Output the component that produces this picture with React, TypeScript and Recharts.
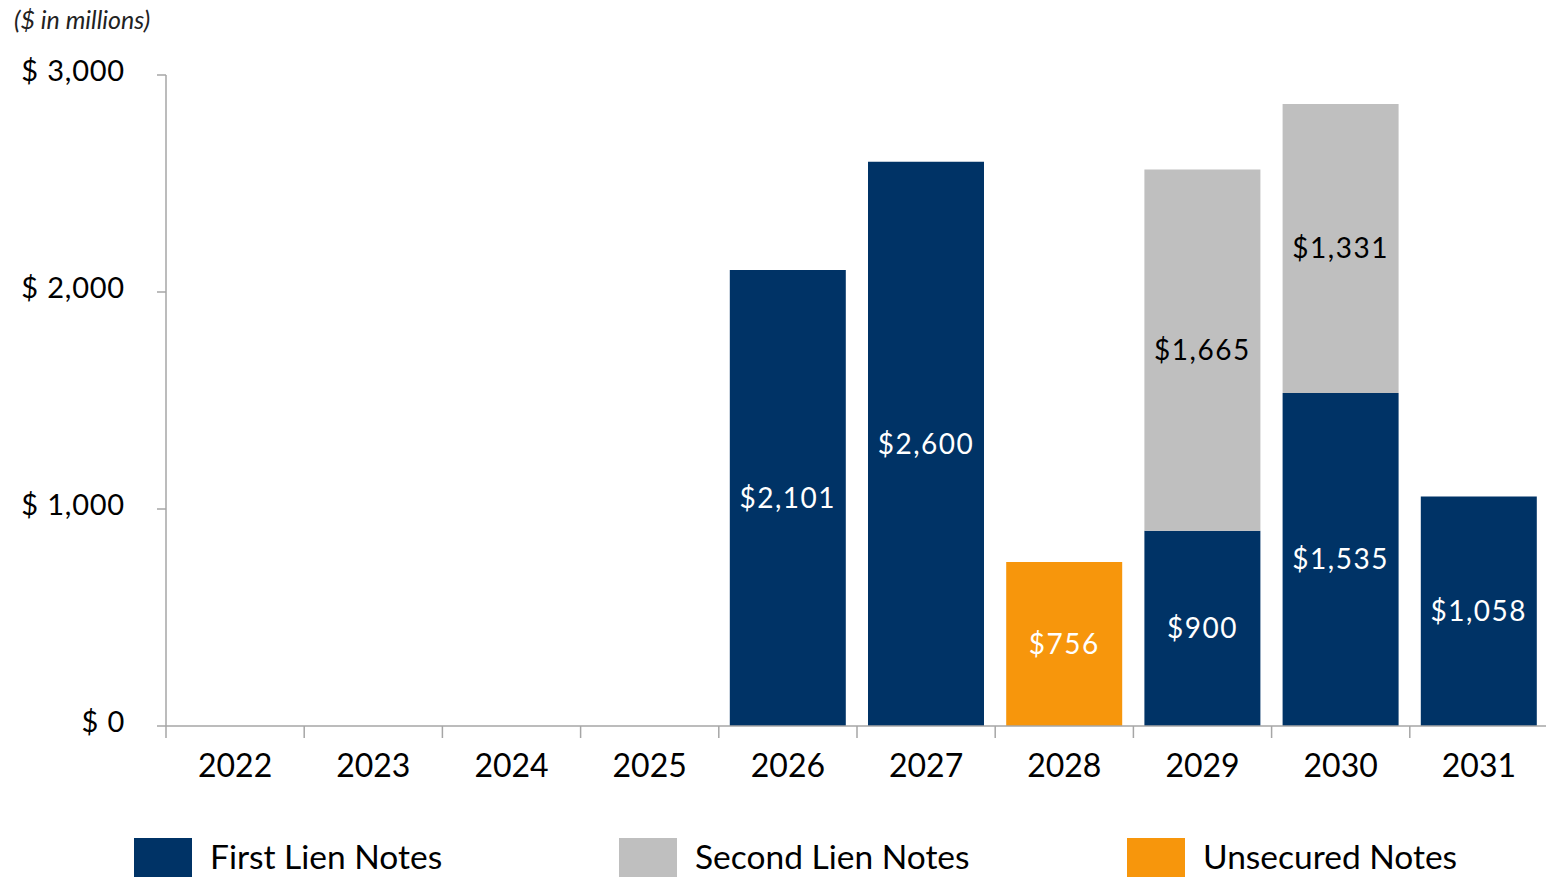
import React from 'react';
import { BarChart, Bar, XAxis, YAxis, LabelList } from 'recharts';

const categories = ['2022', '2023', '2024', '2025', '2026', '2027', '2028', '2029', '2030', '2031'];
const firstLien = [null, null, null, null, 2101, 2600, null, 900, 1535, 1058];
const secondLien = [null, null, null, null, null, null, null, 1665, 1331, null];
const unsecured = [null, null, null, null, null, null, 756, null, null, null];
const yTicks = [0, 1000, 2000, 3000];
const seriesNames = ['First Lien Notes', 'Second Lien Notes', 'Unsecured Notes'];
const seriesColors = ['#003366', '#BFBFBF', '#F7960C'];
const labelColors = ['#FFFFFF', '#000000', '#FFFFFF'];

const data = categories.map((c, i) => ({
  year: c,
  first: firstLien[i],
  second: secondLien[i],
  unsecured: unsecured[i],
}));

const FONT = 'Lato, "Open Sans", sans-serif';
const fmt = (v: any) => (v == null ? '' : `$${Number(v).toLocaleString('en-US')}`);

const XTick = (props: any) => {
  const { x, y, payload } = props;
  const band = 138.2;
  return (
    <g>
      <line x1={x - band / 2} x2={x - band / 2} y1={y} y2={y + 12} stroke="#A6A6A6" strokeWidth={1.5} />
      <text x={x} y={y + 51} textAnchor="middle" fontSize={32} fontFamily={FONT} fill="#000">
        {payload.value}
      </text>
    </g>
  );
};

const YTick = (props: any) => {
  const { x, y, payload } = props;
  return (
    <text x={x} y={y + 6} textAnchor="end" fontSize={29} fontFamily={FONT} fill="#000" letterSpacing={0.8}>
      {`$ ${Number(payload.value).toLocaleString('en-US')}`}
    </text>
  );
};

const keys = ['first', 'second', 'unsecured'];

export default function App() {
  return (
    <div style={{ position: 'absolute', left: 0, top: 0, width: 1546, height: 877, background: '#fff', overflow: 'hidden' }}>
      <div style={{ position: 'absolute', left: 14, top: 4, fontFamily: FONT, fontStyle: 'italic', fontSize: 25, color: '#222' }}>
        ($ in millions)
      </div>
      <BarChart width={1548} height={879} data={data} margin={{ top: 75, right: 0, bottom: 0, left: 0 }}>
        <YAxis
          width={166}
          domain={[0, 3000]}
          ticks={yTicks}
          interval={0}
          tick={<YTick />}
          tickSize={9}
          tickMargin={32}
          axisLine={{ stroke: '#A6A6A6', strokeWidth: 1.5 }}
          tickLine={{ stroke: '#A6A6A6', strokeWidth: 1.5 }}
        />
        <XAxis
          dataKey="year"
          height={153}
          interval={0}
          tick={<XTick />}
          tickSize={0}
          tickMargin={0}
          tickLine={false}
          axisLine={{ stroke: '#A6A6A6', strokeWidth: 1.5 }}
        />
        {keys.map((k, i) => (
          <Bar key={k} dataKey={k} stackId="a" fill={seriesColors[i]} barSize={116} isAnimationActive={false}>
            <LabelList
              dataKey={k}
              position="center"
              formatter={fmt}
              fill={labelColors[i]}
              fontSize={28}
              fontFamily={FONT}
              letterSpacing={1.5}
            />
          </Bar>
        ))}
      </BarChart>
      {seriesNames.map((n, i) => (
        <div
          key={n}
          style={{ position: 'absolute', left: [134, 619, 1127][i], top: 838, height: 40, display: 'flex', alignItems: 'center' }}
        >
          <div style={{ width: 58, height: 40, background: seriesColors[i] }} />
          <span style={{ marginLeft: 18, fontFamily: FONT, fontSize: 33.5, color: '#000', lineHeight: '40px', marginTop: -4 }}>{n}</span>
        </div>
      ))}
    </div>
  );
}
